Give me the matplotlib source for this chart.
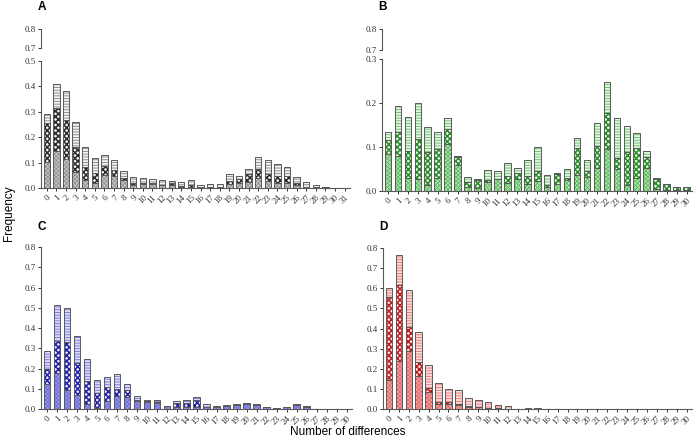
import numpy as np
import matplotlib
matplotlib.use('Agg')
import matplotlib.pyplot as plt

plt.rcParams['hatch.linewidth'] = 0.6

W, H = 697, 440

# cumulative readings per bar: top of bottom segment, top of middle segment, total
bot_a = [0.104, 0.146, 0.114, 0.062, 0.031, 0.018, 0.051, 0.049, 0.031, 0.013, 0.016, 0.016, 0.010, 0.010, 0.005, 0.005,
         0.003, 0.003, 0.003, 0.016, 0.018, 0.025, 0.038, 0.029, 0.018, 0.018, 0.010, 0.002, 0.001, 0.001, 0.0, 0.0]
mid_a = [0.255, 0.314, 0.268, 0.163, 0.081, 0.060, 0.087, 0.071, 0.041, 0.018, 0.021, 0.021, 0.013, 0.018, 0.008, 0.010,
         0.005, 0.005, 0.005, 0.029, 0.034, 0.054, 0.073, 0.054, 0.047, 0.047, 0.021, 0.005, 0.003, 0.002, 0.0, 0.0]
tot_a = [0.290, 0.410, 0.380, 0.260, 0.160, 0.118, 0.129, 0.110, 0.068, 0.045, 0.041, 0.037, 0.031, 0.029, 0.022, 0.030,
         0.013, 0.014, 0.014, 0.055, 0.046, 0.075, 0.121, 0.109, 0.093, 0.081, 0.045, 0.022, 0.010, 0.004, 0.001, 0.001]

bot_b = [0.083, 0.080, 0.029, 0.028, 0.013, 0.029, 0.106, 0.058, 0.008, 0.006, 0.020, 0.027, 0.019, 0.027, 0.017, 0.023,
         0.010, 0.015, 0.025, 0.036, 0.031, 0.053, 0.095, 0.049, 0.014, 0.029, 0.053, 0.004, 0.003, 0.002, 0.002]
mid_b = [0.117, 0.133, 0.091, 0.118, 0.088, 0.095, 0.140, 0.078, 0.021, 0.025, 0.025, 0.027, 0.034, 0.040, 0.035, 0.045,
         0.014, 0.038, 0.029, 0.097, 0.045, 0.102, 0.177, 0.076, 0.089, 0.098, 0.078, 0.027, 0.017, 0.008, 0.008]
tot_b = [0.135, 0.194, 0.169, 0.200, 0.145, 0.133, 0.167, 0.080, 0.031, 0.027, 0.048, 0.045, 0.063, 0.053, 0.070, 0.100,
         0.037, 0.042, 0.049, 0.120, 0.071, 0.154, 0.248, 0.167, 0.148, 0.131, 0.092, 0.029, 0.017, 0.008, 0.008]

bot_c = [0.122, 0.176, 0.094, 0.067, 0.026, 0.005, 0.041, 0.062, 0.059, 0.038, 0.036, 0.032, 0.013, 0.008, 0.012, 0.012,
         0.012, 0.012, 0.014, 0.022, 0.025, 0.020, 0.010, 0.005, 0.008, 0.022, 0.010, 0.0, 0.001, 0.001, 0.0]
mid_c = [0.200, 0.335, 0.329, 0.228, 0.140, 0.077, 0.107, 0.099, 0.092, 0.044, 0.038, 0.034, 0.013, 0.028, 0.030, 0.044,
         0.012, 0.012, 0.014, 0.022, 0.025, 0.020, 0.010, 0.005, 0.008, 0.022, 0.010, 0.0, 0.001, 0.001, 0.0]
tot_c = [0.287, 0.513, 0.501, 0.360, 0.245, 0.141, 0.159, 0.174, 0.125, 0.066, 0.044, 0.043, 0.016, 0.038, 0.043, 0.058,
         0.023, 0.016, 0.018, 0.025, 0.028, 0.023, 0.012, 0.007, 0.010, 0.026, 0.015, 0.0, 0.002, 0.002, 0.0]

bot_d = [0.146, 0.237, 0.288, 0.162, 0.083, 0.025, 0.025, 0.018, 0.012, 0.008, 0.004, 0.002, 0.001, 0.001, 0.001, 0.001,
         0, 0, 0, 0, 0, 0, 0, 0, 0, 0, 0, 0, 0, 0, 0]
mid_d = [0.556, 0.618, 0.406, 0.234, 0.104, 0.033, 0.033, 0.023, 0.017, 0.010, 0.005, 0.003, 0.002, 0.001, 0.002, 0.001,
         0, 0, 0, 0, 0, 0, 0, 0, 0, 0, 0, 0, 0, 0, 0]
tot_d = [0.600, 0.767, 0.590, 0.381, 0.219, 0.128, 0.099, 0.093, 0.053, 0.045, 0.035, 0.020, 0.013, 0.002, 0.006, 0.003,
         0, 0, 0, 0, 0, 0, 0, 0, 0, 0, 0, 0, 0, 0, 0]

# (face, hatch colour, hatch, hatch lw) for bottom / middle / top segments
style_a = [('#c4c4c4', '#8a8a8a', 'xxxxxxxx', 0.5), ('#f2f2f2', '#2a2a2a', 'xxxxxx', 1.1), ('#f4f4f4', '#8c8c8c', '------', 0.7)]
style_b = [('#a4e8a4', '#5cae5c', 'xxxxxxxx', 0.5), ('#e4f8e4', '#2a8a2a', 'xxxxxx', 1.1), ('#e2f8e2', '#70c070', '------', 0.7)]
style_c = [('#9494ee', '#6a6ad2', 'xxxxxxxx', 0.5), ('#e4e4fc', '#2020a8', 'xxxxxx', 1.1), ('#dcdcfa', '#7c7ce0', '------', 0.7)]
style_d = [('#f4a0a0', '#e06464', 'xxxxxxxx', 0.5), ('#fde4e4', '#c21a1a', 'xxxxxx', 1.1), ('#fbdcdc', '#ec7c7c', '------', 0.7)]

TICK_FONT = 'Liberation Serif'
LABEL_FONT = 'Liberation Sans'
EDGE = '#5a5a5a'


def px_axes(fig, x0, x1, y0, y1):
    return fig.add_axes([x0 / W, 1 - y1 / H, (x1 - x0) / W, (y1 - y0) / H])


def style_axis(ax):
    for s in ['top', 'right']:
        ax.spines[s].set_visible(False)
    for s in ['left', 'bottom']:
        ax.spines[s].set_color(EDGE)
        ax.spines[s].set_linewidth(0.8)
    ax.tick_params(colors='#333333', length=2.5, width=0.7, labelsize=6.5, pad=1.5)
    for lab in ax.get_yticklabels():
        lab.set_fontfamily(TICK_FONT)


def draw_bars(ax, bot, mid, tot, style):
    x = np.arange(len(tot))
    lows = [np.zeros(len(tot)), np.array(bot), np.array(mid)]
    highs = [np.array(bot), np.array(mid), np.array(tot)]
    for lo, hi, (face, hcol, hatch, hlw) in zip(lows, highs, style):
        with plt.rc_context({'hatch.linewidth': hlw}):
            bars = ax.bar(x, hi - lo, bottom=lo, width=0.66, color=face, edgecolor=hcol,
                          hatch=hatch, linewidth=0)
        for b in bars:
            if hasattr(b, 'set_hatch_linewidth'):
                b.set_hatch_linewidth(hlw)
        ax.bar(x, hi - lo, bottom=lo, width=0.66, fill=False, edgecolor=EDGE, linewidth=0.7)
    ax.set_xlim(-0.6, len(tot) - 0.45)
    ax.set_xticks(x)
    ax.set_xticklabels([str(i) for i in x], rotation=45, ha='right',
                       rotation_mode='anchor', fontfamily=TICK_FONT, fontsize=6.5)


def top_stub(fig, x0, x1, y0, y1):
    ax = px_axes(fig, x0, x1, y0, y1)
    ax.set_ylim(0.7, 0.8)
    ax.set_yticks([0.7, 0.8])
    ax.set_yticklabels(['0.7', '0.8'])
    ax.set_xticks([])
    ax.spines['bottom'].set_visible(False)
    style_axis(ax)
    ax.patch.set_alpha(0)
    return ax


fig = plt.figure(figsize=(W / 100, H / 100), dpi=100)

# panel A
ax = px_axes(fig, 41, 350, 61, 188)
draw_bars(ax, bot_a, mid_a, tot_a, style_a)
ax.set_ylim(0, 0.5)
ax.set_yticks(np.arange(0, 0.51, 0.1))
ax.set_yticklabels(['%.1f' % v for v in np.arange(0, 0.51, 0.1)])
style_axis(ax)
top_stub(fig, 41, 350, 29, 48)

# panel B
ax = px_axes(fig, 382, 692, 59, 191)
draw_bars(ax, bot_b, mid_b, tot_b, style_b)
ax.set_ylim(0, 0.3)
ax.set_yticks(np.arange(0, 0.31, 0.1))
ax.set_yticklabels(['%.1f' % v for v in np.arange(0, 0.31, 0.1)])
style_axis(ax)
top_stub(fig, 382, 692, 29, 50)

# panel C
ax = px_axes(fig, 41, 352, 247, 409)
draw_bars(ax, bot_c, mid_c, tot_c, style_c)
ax.set_ylim(0, 0.8)
ax.set_yticks(np.arange(0, 0.81, 0.1))
ax.set_yticklabels(['%.1f' % v for v in np.arange(0, 0.81, 0.1)])
style_axis(ax)

# panel D
ax = px_axes(fig, 383, 692, 248, 409)
draw_bars(ax, bot_d, mid_d, tot_d, style_d)
ax.set_ylim(0, 0.8)
ax.set_yticks(np.arange(0, 0.81, 0.1))
ax.set_yticklabels(['%.1f' % v for v in np.arange(0, 0.81, 0.1)])
style_axis(ax)

for letter, (px, py) in zip('ABCD', [(42, 7), (383, 7), (42, 227), (383, 227)]):
    fig.text(px / W, 1 - py / H, letter, fontsize=8.5, fontweight='bold',
             fontfamily=LABEL_FONT, ha='center', va='center')

fig.text(9 / W, 1 - 213 / H, 'Frequency', rotation=90, fontsize=8.5,
         fontfamily=LABEL_FONT, ha='center', va='center')
fig.text(348 / W, 1 - 432 / H, 'Number of differences', fontsize=8.5,
         fontfamily=LABEL_FONT, ha='center', va='center')

fig.savefig('out.png', dpi=100)
